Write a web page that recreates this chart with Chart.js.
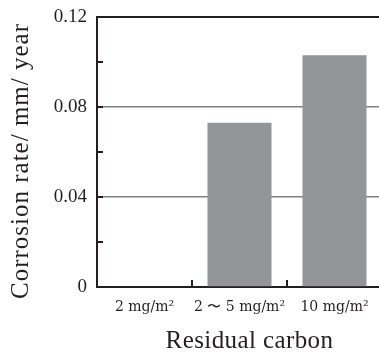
<!DOCTYPE html>
<html>
<head>
<meta charset="utf-8">
<script src="https://cdn.jsdelivr.net/npm/chart.js@4/dist/chart.umd.min.js"></script>
<style>
  html, body { margin: 0; padding: 0; background: #fff; overflow: hidden; }
  #wrap { width: 384px; height: 352px; }
</style>
</head>
<body>
<div id="wrap"><canvas id="rateChart" width="384" height="352"></canvas></div>
<script>
// residual carbon levels and measured corrosion rate (mm/year)
const categories = ["2 mg/m²", "2 〜 5 mg/m²", "10 mg/m²"];
const corrosionRate = [0, 0.073, 0.103];
const yMax = 0.12;
const yStep = 0.02;           // minor tick spacing
const yLabelEvery = 0.04;     // labelled ticks
const xTitle = "Residual carbon";
const yTitle = "Corrosion rate/ mm/ year";

const ink = "#231f20";

// inward tick marks + axis titles
const axisDecor = {
    id: "axisDecor",
    afterDraw(chart) {
        const { ctx, chartArea: a, scales: { x, y } } = chart;
        ctx.save();
        ctx.strokeStyle = ink;
        ctx.lineWidth = 2;
        ctx.beginPath();
        y.ticks.forEach(t => {
            const py = y.getPixelForValue(t.value);
            ctx.moveTo(a.left, py);
            ctx.lineTo(a.left + 6, py);
        });
        for (let i = 1; i < categories.length; i++) {
            const px = (x.getPixelForValue(i - 1) + x.getPixelForValue(i)) / 2;
            ctx.moveTo(px, a.bottom);
            ctx.lineTo(px, a.bottom - 7);
        }
        ctx.stroke();

        ctx.fillStyle = ink;
        ctx.font = '25px "Liberation Serif"';
        ctx.letterSpacing = "0.4px";
        ctx.textAlign = "center";
        ctx.textBaseline = "alphabetic";
        ctx.fillText(xTitle, (a.left + a.right) / 2 + 10, a.bottom + 61);

        ctx.letterSpacing = "1px";
        ctx.translate(28, (a.top + a.bottom) / 2 + 9);
        ctx.rotate(-Math.PI / 2);
        ctx.fillText(yTitle, 0, 0);
        ctx.restore();
    }
};

const isLabelled = v => Math.round(v * 100) % Math.round(yLabelEvery * 100) === 0;

new Chart(document.getElementById("rateChart"), {
    type: "bar",
    data: {
        labels: categories,
        datasets: [{
            data: corrosionRate,
            backgroundColor: "#939598",
            borderWidth: 0,
            barPercentage: 0.674,
            categoryPercentage: 1
        }]
    },
    options: {
        responsive: false,
        animation: false,
        layout: { padding: { top: 17, right: 2, left: 0, bottom: 0 } },
        plugins: { legend: { display: false }, tooltip: { enabled: false } },
        scales: {
            x: {
                offset: true,
                grid: { display: false, drawTicks: false },
                border: { display: true, color: ink, width: 2 },
                ticks: {
                    color: ink,
                    padding: 12,
                    maxRotation: 0,
                    font: { family: "DejaVu Serif", size: 14 }
                },
                afterFit(scale) {
                    scale.height = 65;
                    scale.paddingLeft = 0;
                    scale.paddingRight = 0;
                }
            },
            y: {
                min: 0,
                max: yMax,
                grid: {
                    drawTicks: false,
                    color: c => {
                        const v = Math.round(c.tick.value * 100);
                        if (v === Math.round(yMax * 100)) return ink;
                        if (v > 0 && isLabelled(c.tick.value)) return "#808080";
                        return "rgba(0,0,0,0)";
                    },
                    lineWidth: c => Math.round(c.tick.value * 100) === Math.round(yMax * 100) ? 2 : 1.5
                },
                border: { display: true, color: ink, width: 2 },
                ticks: {
                    stepSize: yStep,
                    color: ink,
                    padding: 10,
                    autoSkip: false,
                    font: { family: "Liberation Serif", size: 19 },
                    callback: v => {
                        if (!isLabelled(v)) return "";
                        return v === 0 ? "0" : v.toFixed(2);
                    }
                },
                afterFit(scale) {
                    scale.width = 97;
                    scale.paddingTop = 0;
                    scale.paddingBottom = 0;
                }
            }
        }
    },
    plugins: [axisDecor]
});
</script>
</body>
</html>
